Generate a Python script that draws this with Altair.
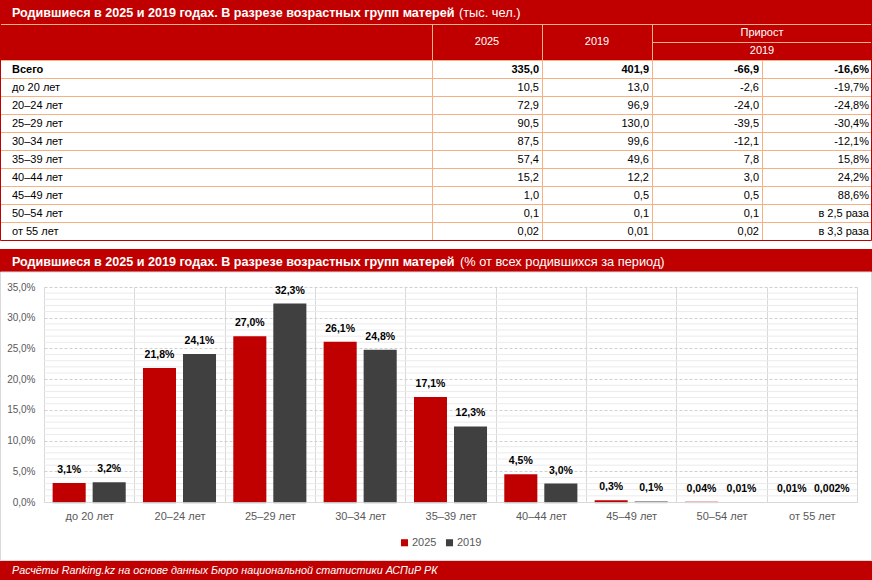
import altair as alt
import pandas as pd

# ---------------- data ----------------
age_groups = ["до 20 лет", "20–24 лет", "25–29 лет", "30–34 лет", "35–39 лет",
              "40–44 лет", "45–49 лет", "50–54 лет", "от 55 лет"]
table_rows = ["Всего"] + age_groups
births_2025 = [335.0, 10.5, 72.9, 90.5, 87.5, 57.4, 15.2, 1.0, 0.1, 0.02]
births_2019 = [401.9, 13.0, 96.9, 130.0, 99.6, 49.6, 12.2, 0.5, 0.1, 0.01]
growth_abs = [-66.9, -2.6, -24.0, -39.5, -12.1, 7.8, 3.0, 0.5, 0.1, 0.02]
growth_pct = [-16.6, -19.7, -24.8, -30.4, -12.1, 15.8, 24.2, 88.6, None, None]
growth_times = [None, None, None, None, None, None, None, None, 2.5, 3.3]
share_2025 = [3.1, 21.8, 27.0, 26.1, 17.1, 4.5, 0.3, 0.04, 0.01]
share_2019 = [3.2, 24.1, 32.3, 24.8, 12.3, 3.0, 0.1, 0.01, 0.002]
years = ["2025", "2019"]
y_ticks = [0, 5, 10, 15, 20, 25, 30, 35]

title_bold = "Родившиеся в 2025 и 2019 годах. В разрезе возрастных групп матерей"
title1_rest = "(тыс. чел.)"
title2_rest = "(% от всех родившихся за период)"
footer_text = "Расчёты Ranking.kz на основе данных Бюро национальной статистики АСПиР РК"

# ---------------- style / layout ----------------
FONT = "Liberation Sans"
RED = "#C00000"
DARK = "#404040"
PEACH = "#F4B183"
GRID = "#D9D9D9"
TXT = "#595959"

OX, OY, PW, PH = 44, 287, 813, 215   # plot-area origin and size


def ax(v):
    return v - OX


def ay(v):
    return v - OY


dummy = pd.DataFrame({"d": [0]})


def fmt_num(v):
    s = f"{v:.1f}" if (v == 0 or abs(v) >= 0.1) else f"{v:.2f}"
    return s.replace(".", ",")


def fmt_share(v):
    s = f"{v:.1f}" if v >= 0.1 else f"{v:g}"
    return s.replace(".", ",") + "%"


def fmt_growth(p, t):
    if p is not None:
        return f"{p:.1f}%".replace(".", ",")
    return f"в {t:.1f} раза".replace(".", ",")


def deco_rect(x1, y1, x2, y2, **mk):
    return alt.Chart(dummy).mark_rect(**mk).encode(
        x=alt.value(ax(x1)), x2=alt.value(ax(x2)),
        y=alt.value(ay(y1)), y2=alt.value(ay(y2)))


def deco_rule(x1, y1, x2, y2, color, width=1):
    return alt.Chart(dummy).mark_rule(color=color, strokeWidth=width).encode(
        x=alt.value(ax(x1)), x2=alt.value(ax(x2)),
        y=alt.value(ay(y1)), y2=alt.value(ay(y2)))


def deco_text(x, y, text, **mk):
    base = dict(font=FONT, baseline="middle")
    base.update(mk)
    return alt.Chart(dummy).mark_text(**base).encode(
        x=alt.value(ax(x)), y=alt.value(ay(y)), text=alt.value(text))


# ---------------- bar chart ----------------
bars_df = pd.DataFrame({
    "group": age_groups + age_groups,
    "year": [years[0]] * len(age_groups) + [years[1]] * len(age_groups),
    "share": share_2025 + share_2019,
})
bars_df["label"] = [fmt_share(v) for v in bars_df["share"]]

minor_df = pd.DataFrame({"share": [v for v in range(1, 35) if v % 5]})

x_axis = alt.Axis(title=None, labelAngle=0, labelFont=FONT, labelFontSize=11,
                  labelColor=TXT, labelPadding=8, ticks=False, domain=True,
                  domainColor=GRID, grid=True, gridColor=GRID, tickBand="extent")
y_axis = alt.Axis(values=y_ticks, title=None,
                  labelExpr="replace(format(datum.value, '.1f'), '.', ',') + '%'",
                  labelFont=FONT, labelFontSize=10, labelColor=TXT, labelPadding=9,
                  ticks=False, domain=False, grid=True, gridColor="#D0D0D0",
                  gridDash=[3, 2], gridWidth=1)

x_enc = alt.X("group:N", sort=age_groups, title=None,
              scale=alt.Scale(paddingInner=0, paddingOuter=0), axis=x_axis)
xo_enc = alt.XOffset("year:N", sort=years,
                     scale=alt.Scale(paddingInner=0.175, paddingOuter=0.216))
y_enc = alt.Y("share:Q", title=None, scale=alt.Scale(domain=[0, 35], nice=False),
              axis=y_axis)

minor = alt.Chart(minor_df).mark_rule(color="#EBEBEB", strokeWidth=1).encode(
    y=y_enc, x=alt.value(0), x2=alt.value(PW))

shadow = alt.Chart(bars_df).mark_bar(color="#000000", opacity=0.10,
                                     xOffset=3, x2Offset=3, yOffset=2).encode(
    x=x_enc, xOffset=xo_enc, y=y_enc)

bars = alt.Chart(bars_df).mark_bar().encode(
    x=x_enc, xOffset=xo_enc, y=y_enc,
    color=alt.Color("year:N", sort=years,
                    scale=alt.Scale(domain=years, range=[RED, DARK]),
                    legend=alt.Legend(title=None, orient="none", direction="horizontal",
                                      legendX=ax(399), legendY=ay(537),
                                      symbolType="square", symbolSize=50,
                                      symbolStrokeWidth=0, labelFont=FONT,
                                      labelFontSize=11, labelColor=TXT,
                                      columnPadding=7, labelOffset=2)))

labels = alt.Chart(bars_df).mark_text(font=FONT, fontSize=10.5, fontWeight="bold",
                                      color="#000000", baseline="alphabetic",
                                      dy=-10).encode(
    x=x_enc, xOffset=xo_enc, y=y_enc, text="label:N")

bar_group = alt.layer(minor, shadow, bars, labels)

# ---------------- table ----------------
n = len(table_rows)
row_scale = alt.Scale(domain=[0, n - 1], range=[ay(70), ay(70 + 18 * (n - 1))])
col_scale = alt.Scale(domain=[1, 4], range=[ax(539), ax(869)])

labels_tbl = pd.DataFrame({"r": list(range(n)), "label": table_rows})
recs = []
for r in range(n):
    cells = [fmt_num(births_2025[r]), fmt_num(births_2019[r]), fmt_num(growth_abs[r]),
             fmt_growth(growth_pct[r], growth_times[r])]
    for c, t in enumerate(cells, start=1):
        recs.append({"r": r, "c": c, "t": t})
vals_tbl = pd.DataFrame(recs)

y_row = alt.Y("r:Q", scale=row_scale, axis=None)

row_lines = alt.Chart(labels_tbl).mark_rule(color=PEACH, strokeWidth=1, yOffset=-9.5).encode(
    y=y_row, x=alt.value(ax(0)), x2=alt.value(ax(872)))

lab_norm = alt.Chart(labels_tbl).transform_filter("datum.r > 0").mark_text(
    font=FONT, fontSize=11, align="left", baseline="middle", color="#000000").encode(
    x=alt.value(ax(12)), y=y_row, text="label:N")
lab_bold = alt.Chart(labels_tbl).transform_filter("datum.r == 0").mark_text(
    font=FONT, fontSize=11, fontWeight="bold", align="left", baseline="middle",
    color="#000000").encode(x=alt.value(ax(12)), y=y_row, text="label:N")
val_norm = alt.Chart(vals_tbl).transform_filter("datum.r > 0").mark_text(
    font=FONT, fontSize=11, align="right", baseline="middle", color="#000000").encode(
    x=alt.X("c:Q", scale=col_scale, axis=None), y=y_row, text="t:N")
val_bold = alt.Chart(vals_tbl).transform_filter("datum.r == 0").mark_text(
    font=FONT, fontSize=11, fontWeight="bold", align="right", baseline="middle",
    color="#000000").encode(
    x=alt.X("c:Q", scale=col_scale, axis=None), y=y_row, text="t:N")

table_group = alt.layer(row_lines, lab_norm, lab_bold, val_norm, val_bold)

# ---------------- decorations ----------------
back = [
    deco_rect(0, 0, 872, 24, color=RED),                      # title 1 bar
    deco_rect(0, 24, 872, 60, color=RED),                     # table header
    deco_rect(0, 249, 872, 272, color=RED),                   # title 2 bar
    deco_rect(0.5, 272, 871.5, 560.5, fill=None, filled=False, stroke=GRID, strokeWidth=1),
    deco_rect(0, 561, 872, 580, color=RED),                   # footer
]

front = [
    deco_rule(0, 24.5, 872, 24.5, PEACH),
    deco_rule(652, 42.5, 872, 42.5, PEACH),
    deco_rule(432.5, 24, 432.5, 240, PEACH),
    deco_rule(542.5, 24, 542.5, 240, PEACH),
    deco_rule(652.5, 24, 652.5, 240, PEACH),
    deco_rule(762.5, 60, 762.5, 240, PEACH),
    deco_rect(0.5, 0.5, 871.5, 240.5, fill=None, filled=False, stroke=RED, strokeWidth=1),
    deco_text(12, 12.8, title_bold, fontSize=12.6, fontWeight="bold", color="#FFFFFF", align="left"),
    deco_text(459, 12.8, title1_rest, fontSize=12.8, color="#FFFFFF", align="left"),
    deco_text(487, 42, years[0], fontSize=11, color="#FFFFFF", align="center"),
    deco_text(597, 42, years[1], fontSize=11, color="#FFFFFF", align="center"),
    deco_text(762, 33, "Прирост", fontSize=11, color="#FFFFFF", align="center"),
    deco_text(762, 51, years[1], fontSize=11, color="#FFFFFF", align="center"),
    deco_text(12, 261.5, title_bold, fontSize=12.6, fontWeight="bold", color="#FFFFFF", align="left"),
    deco_text(460, 261.5, title2_rest, fontSize=12.8, color="#FFFFFF", align="left"),
    deco_text(12, 571, footer_text, fontSize=10.8, fontStyle="italic", color="#FFFFFF", align="left"),
]

chart = alt.layer(*back, bar_group, table_group, *front).resolve_scale(
    x="independent", y="independent"
).properties(
    width=PW, height=PH,
    autosize=alt.AutoSizeParams(type="none"),
    padding={"left": OX, "top": OY, "right": 872 - OX - PW, "bottom": 580 - OY - PH},
    background="#FFFFFF",
).configure_view(stroke=None)

chart.save("out.html", embed_options={"renderer": "svg", "actions": False})
